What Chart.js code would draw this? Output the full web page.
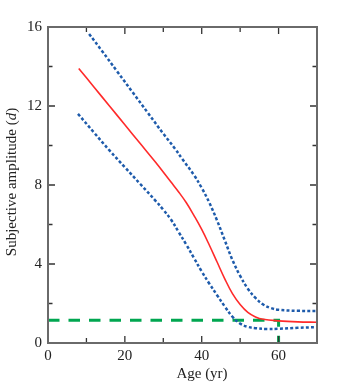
<!DOCTYPE html>
<html>
<head>
<meta charset="utf-8">
<style>
  html, body { margin: 0; padding: 0; background: #fff; }
  #wrap { width: 348px; height: 388px; }
</style>
<script src="https://cdn.jsdelivr.net/npm/chart.js@4/dist/chart.umd.min.js"></script>
</head>
<body>
<div id="wrap"><canvas id="ampChart" width="348" height="388"></canvas></div>
<script>
// mean curve (red) and its limits (blue dotted), amplitude in diopters vs age
const meanAges = [8, 12, 16, 20, 24, 28, 32, 34, 36, 38, 40, 42, 44, 46, 48, 50, 52, 54, 56, 60, 65, 70];
const meanAmp  = [13.9, 12.95, 12.0, 11.05, 10.1, 9.15, 8.15, 7.65, 7.1, 6.45, 5.75, 4.95, 4.1, 3.25, 2.5, 1.95, 1.55, 1.32, 1.2, 1.12, 1.07, 1.05];

const upperAges = [10.7, 14, 18, 22, 26, 30, 33, 35, 38, 40, 42, 44, 46, 48, 50, 52, 54, 56, 58, 60, 65, 70];
const upperAmp  = [15.65, 14.8, 13.75, 12.7, 11.65, 10.6, 9.85, 9.3, 8.5, 7.85, 7.1, 6.2, 5.2, 4.2, 3.4, 2.75, 2.28, 1.95, 1.77, 1.68, 1.63, 1.62];

const lowerAges = [7.8, 12, 16, 20, 24, 28, 30, 32, 34, 36, 38, 40, 42, 44, 46, 48, 50, 52, 54, 57, 60, 65, 70];
const lowerAmp  = [11.6, 10.65, 9.75, 8.9, 8.05, 7.2, 6.75, 6.25, 5.62, 4.98, 4.3, 3.62, 3.0, 2.42, 1.85, 1.33, 0.98, 0.82, 0.75, 0.71, 0.72, 0.77, 0.8];

// green reference: 60 yr, ~1.15 D
const refAges = [0, 60, 60];
const refAmp  = [1.15, 1.15, 0];

const xTicks = [0, 20, 40, 60];
const yTicks = [0, 4, 8, 12, 16];

const serif = '"Liberation Serif", "DejaVu Serif", serif';

function pts(xs, ys) {
  return xs.map((x, i) => ({ x: x, y: ys[i] }));
}

// frame, inward ticks and axis titles
const framePlugin = {
  id: 'frame',
  afterDraw(chart) {
    const ctx = chart.ctx;
    const a = chart.chartArea;
    const xs = chart.scales.x;
    const ys = chart.scales.y;
    ctx.save();

    ctx.strokeStyle = '#333';
    ctx.lineWidth = 1.3;
    for (let v = 0; v <= 70; v += 10) {
      const px = xs.getPixelForValue(v);
      const len = (v % 20 === 0) ? 7 : 5;
      ctx.beginPath();
      ctx.moveTo(px, a.bottom); ctx.lineTo(px, a.bottom - len);
      ctx.moveTo(px, a.top); ctx.lineTo(px, a.top + len);
      ctx.stroke();
    }
    for (let v = 0; v <= 16; v += 2) {
      const py = ys.getPixelForValue(v);
      const len = (v % 4 === 0) ? 7 : 4.5;
      ctx.beginPath();
      ctx.moveTo(a.left, py); ctx.lineTo(a.left + len, py);
      ctx.moveTo(a.right, py); ctx.lineTo(a.right - len, py);
      ctx.stroke();
    }

    ctx.strokeStyle = '#6a6a6a';
    ctx.lineWidth = 2;
    ctx.strokeRect(a.left, a.top, a.right - a.left, a.bottom - a.top);

    ctx.fillStyle = '#222';
    ctx.textBaseline = 'middle';
    ctx.textAlign = 'center';
    ctx.font = '15px ' + serif;
    ctx.fillText('Age (yr)', 202, 374);

    // y title with italic unit
    ctx.translate(12, 182);
    ctx.rotate(-Math.PI / 2);
    const p1 = 'Subjective amplitude (';
    const p2 = 'd';
    const p3 = ')';
    const fn = '15px ' + serif;
    const fi = 'italic 15px ' + serif;
    ctx.font = fn; const w1 = ctx.measureText(p1).width; const w3 = ctx.measureText(p3).width;
    ctx.font = fi; const w2 = ctx.measureText(p2).width;
    let x0 = -(w1 + w2 + w3) / 2;
    ctx.textAlign = 'left';
    ctx.font = fn; ctx.fillText(p1, x0, 0);
    ctx.font = fi; ctx.fillText(p2, x0 + w1, 0);
    ctx.font = fn; ctx.fillText(p3, x0 + w1 + w2, 0);
    ctx.restore();
  }
};

const ctx = document.getElementById('ampChart').getContext('2d');
new Chart(ctx, {
  type: 'line',
  data: {
    datasets: [
      {
        label: 'upper',
        data: pts(upperAges, upperAmp),
        borderColor: '#1e5bab',
        borderWidth: 2.5,
        borderDash: [3, 2.2],
        tension: 0.4,
        pointRadius: 0
      },
      {
        label: 'mean',
        data: pts(meanAges, meanAmp),
        borderColor: '#ff2a2a',
        borderWidth: 1.6,
        tension: 0.4,
        pointRadius: 0
      },
      {
        label: 'lower',
        data: pts(lowerAges, lowerAmp),
        borderColor: '#1e5bab',
        borderWidth: 2.5,
        borderDash: [3, 2.2],
        tension: 0.4,
        pointRadius: 0
      },
      {
        label: 'ref',
        data: pts(refAges, refAmp),
        borderColor: '#00a650',
        borderWidth: 3,
        borderDash: [11.5, 9],
        tension: 0,
        pointRadius: 0
      }
    ]
  },
  options: {
    responsive: false,
    animation: false,
    layout: { padding: { left: 0, top: 27, right: 31, bottom: 0 } },
    plugins: {
      legend: { display: false },
      tooltip: { enabled: false }
    },
    scales: {
      x: {
        type: 'linear',
        min: 0,
        max: 70,
        afterFit(s) { s.height = 45; },
        afterBuildTicks(s) { s.ticks = xTicks.map(v => ({ value: v })); },
        grid: { display: false, drawTicks: false },
        border: { display: false },
        ticks: {
          padding: 4,
          color: '#222',
          font: { family: serif, size: 15 }
        }
      },
      y: {
        type: 'linear',
        min: 0,
        max: 16,
        afterFit(s) { s.width = 48; },
        afterBuildTicks(s) { s.ticks = yTicks.map(v => ({ value: v })); },
        grid: { display: false, drawTicks: false },
        border: { display: false },
        ticks: {
          padding: 6,
          color: '#222',
          font: { family: serif, size: 15 }
        }
      }
    }
  },
  plugins: [framePlugin]
});
</script>
</body>
</html>
